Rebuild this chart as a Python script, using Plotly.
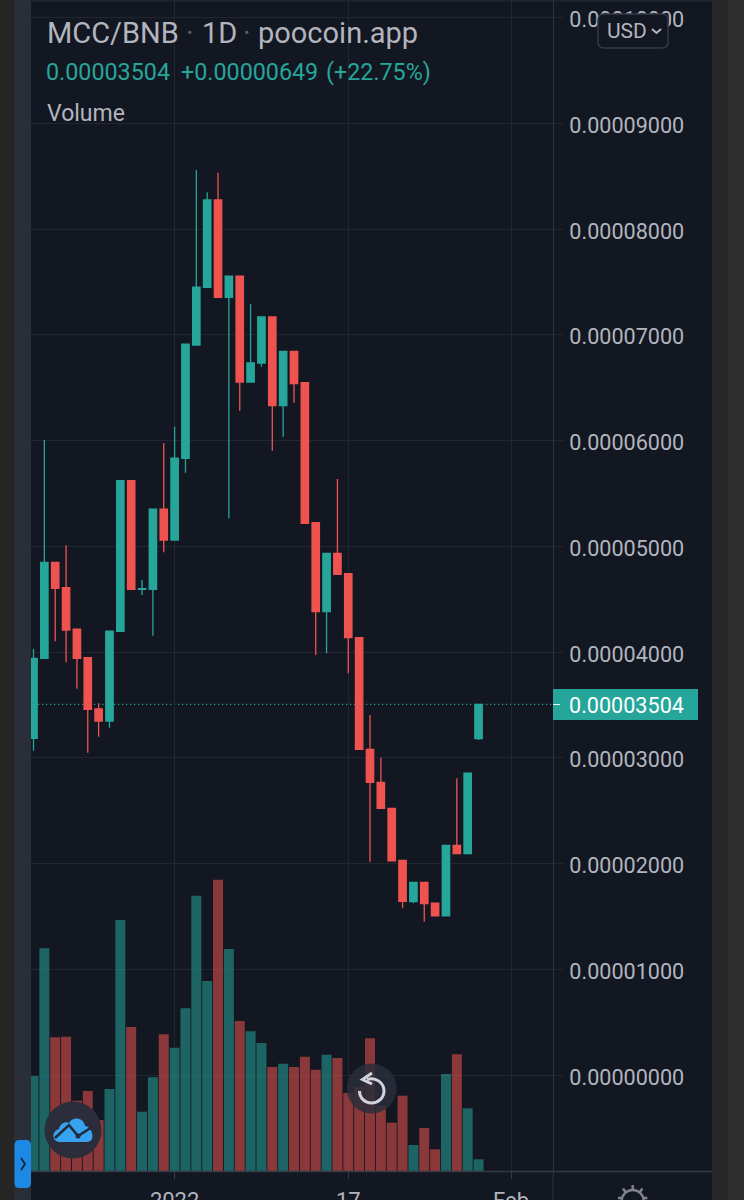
import re
import pandas as pd
import plotly.graph_objects as go

# Daily MCC/BNB candles, prices in units of 1e-5 BNB
open_e5 = [3.184, 3.940, 4.848, 4.608, 4.215, 3.946, 3.461, 3.347, 4.196, 5.620, 4.593, 4.593, 5.352, 5.059,
           5.832, 6.903, 7.449, 8.274, 7.354, 7.553, 6.553, 6.733, 7.168, 6.329, 6.843, 6.546, 5.223, 4.381,
           4.933, 4.740, 4.135, 3.080, 2.768, 2.522, 2.030, 1.639, 1.822, 1.626, 1.506, 2.172, 2.093, 3.180]
high_e5 = [4.028, 6.005, 4.848, 5.009, 4.215, 3.946, 3.515, 4.198, 5.620, 5.620, 4.681, 5.352, 5.973, 6.130,
           6.910, 8.558, 8.347, 8.532, 7.553, 7.553, 7.291, 7.168, 7.168, 6.843, 6.843, 6.546, 5.223, 4.933,
           5.636, 4.740, 4.135, 3.404, 3.000, 2.522, 2.030, 1.822, 1.822, 1.626, 2.172, 2.806, 2.855, 3.504]
low_e5 = [3.067, 3.935, 4.101, 3.902, 3.653, 3.048, 3.199, 3.284, 4.196, 4.593, 4.539, 4.154, 4.943, 5.059,
          5.695, 6.903, 7.449, 7.354, 5.264, 6.282, 6.553, 6.698, 5.903, 6.036, 6.357, 5.217, 3.972, 3.988,
          4.735, 3.799, 3.080, 2.017, 2.522, 2.024, 1.576, 1.624, 1.450, 1.506, 1.506, 2.093, 2.093, 3.168]
close_e5 = [3.940, 4.848, 4.602, 4.208, 3.940, 3.458, 3.347, 4.198, 5.620, 4.593, 4.600, 5.352, 5.059, 5.832,
            6.910, 7.449, 8.274, 7.354, 7.553, 6.553, 6.733, 7.168, 6.329, 6.843, 6.537, 5.217, 4.381, 4.933,
            4.735, 4.135, 3.080, 2.768, 2.522, 2.024, 1.643, 1.822, 1.620, 1.506, 2.172, 2.093, 2.855, 3.504]
volume = [950, 2227, 1337, 1343, 703, 800, 510, 820, 2510, 1440, 593, 937, 1367, 1233,
          1627, 2753, 1900, 2913, 2220, 1500, 1397, 1280, 1040, 1073, 1040, 1143, 1013, 1163,
          1130, 780, 843, 1327, 650, 483, 753, 260, 430, 217, 970, 1167, 627, 117]
first_day = "2021-12-19"
axis_ticks = ["2022-01-01", "2022-01-17", "2022-02-01"]
axis_tick_labels = ["2022", "17", "Feb"]
price_ticks_e5 = [0, 1, 2, 3, 4, 5, 6, 7, 8, 9, 10]
symbol_parts = ["MCC/BNB", "1D", "poocoin.app"]
change_text = "+0.00000649"
change_pct_text = "(+22.75%)"

UP = "#26a69a"
DOWN = "#ef5350"
BG = "#131722"
GRID = "#222630"
TEXT = "#b2b5be"
AXIS = "#363a45"
W, H = 744, 1200

days = pd.date_range(first_day, periods=len(close_e5), freq="D")
scale = 1e-5
opens = [v * scale for v in open_e5]
highs = [v * scale for v in high_e5]
lows = [v * scale for v in low_e5]
closes = [v * scale for v in close_e5]
last_close = closes[-1]


def px(x, y):
    return x / W, 1 - y / H


def path(spec):
    # Turn a path written in page pixels into paper coordinates
    nums = iter(re.findall(r"-?\d+\.?\d*|[A-Za-z]", spec))
    out = []
    for tok in nums:
        if tok.isalpha():
            out.append(tok)
        else:
            x, y = px(float(tok), float(next(nums)))
            out.append(f"{x:.5f},{y:.5f}")
    return " ".join(out)


def label(x, y, text, size, color=TEXT, anchor="left"):
    xp, yp = px(x, y)
    return dict(x=xp, y=yp, xref="paper", yref="paper", text=text, showarrow=False, xanchor=anchor,
                yanchor="middle", align="left", borderpad=0,
                font=dict(family="Roboto", size=size, color=color))


def rect(x0, y0, x1, y1, fill, layer="above", line=None):
    a, b = px(x0, y0)
    c, d = px(x1, y1)
    return dict(type="rect", xref="paper", yref="paper", x0=a, y0=b, x1=c, y1=d, fillcolor=fill,
                layer=layer, line=line or dict(width=0))


def circle(cx, cy, r, fill, line=None):
    a, b = px(cx - r, cy - r)
    c, d = px(cx + r, cy + r)
    return dict(type="circle", xref="paper", yref="paper", x0=a, y0=b, x1=c, y1=d, fillcolor=fill,
                layer="above", line=line or dict(width=0))


def stroke(spec, color, width, fill="rgba(0,0,0,0)"):
    return dict(type="path", xref="paper", yref="paper", path=path(spec), fillcolor=fill, layer="above",
                line=dict(color=color, width=width))


fig = go.Figure()

fig.add_trace(go.Bar(
    x=days, y=volume, yaxis="y2", hoverinfo="skip", showlegend=False,
    marker=dict(color=["rgba(38,166,154,0.55)" if c >= o else "rgba(239,83,80,0.55)"
                       for o, c in zip(opens, closes)], line=dict(width=0)),
))
fig.add_trace(go.Candlestick(
    x=days, open=opens, high=highs, low=lows, close=closes, hoverinfo="skip", showlegend=False,
    increasing=dict(line=dict(color=UP, width=1.3), fillcolor=UP),
    decreasing=dict(line=dict(color=DOWN, width=1.3), fillcolor=DOWN),
    whiskerwidth=0,
))

start = pd.Timestamp(first_day)
x_left = start + pd.Timedelta(days=-0.23)
x_right = start + pd.Timedelta(days=47.86)
price_per_px = scale / 105.75
y_top = 1075 * price_per_px
y_bottom = -(1171 - 1075) * price_per_px

GEAR = "#7f828c"
shapes = [
    # last-price guide
    dict(type="line", xref="x", yref="y", x0=start + pd.Timedelta(days=0.42), x1=x_right,
         y0=last_close, y1=last_close, layer="below", line=dict(color=UP, width=1.2, dash="1.2px,2.8px")),
    # page chrome around the chart pane
    rect(0, 0, 14, H, "#252525"),
    rect(14, 0, 31, H, "#2a2e39"),
    rect(712, 0, 728, H, "#272727"),
    rect(728, 0, 744, H, "#2e2e2e"),
    rect(31, 0.5, 712, 1.5, "#2a2e39"),
    # time-axis rule runs under the price scale, price-scale rule runs down to the page edge
    rect(31, 1170.7, 712, 1172.3, AXIS),
    rect(552.6, 1171, 553.6, H, "#2f3340"),
    # last-price tag
    rect(553, 689, 698, 720, UP),
    rect(553, 704, 560, 705, "#e8f5f3"),
    # USD selector
    stroke("M 604 14 L 662 14 C 666 14 668 16 668 20 L 668 42 C 668 46 666 48 662 48 L 604 48 "
           "C 600 48 598 46 598 42 L 598 20 C 598 16 600 14 604 14 Z", AXIS, 1.5, BG),
    stroke("M 652 29 L 656.5 33 L 661 29", TEXT, 2),
    # collapse handle
    stroke("M 19 1140 L 26 1140 C 29 1140 31 1142 31 1145 L 31 1183 C 31 1186 29 1188 26 1188 L 19 1188 "
           "C 16 1188 14.5 1186 14.5 1183 L 14.5 1145 C 14.5 1142 16 1140 19 1140 Z", "#2196f3", 0, "#1e88e5"),
    stroke("M 21 1158 L 25 1164 L 21 1170", "#10243a", 1.8),
    # logo button
    circle(73, 1130, 28.5, "#2b2d3a"),
    stroke("M 60 1142 C 52 1142 51 1131 59 1129 C 60 1123 66 1121 69 1123 C 72 1116 84 1117 85 1126 "
           "C 93 1127 96 1142 87 1142 Z", "#36a2f0", 0, "#36a2f0"),
    stroke("M 55 1138 L 69 1125 L 78 1136 L 92 1127", "#23283a", 2.5),
    circle(78, 1136, 2.5, "#23283a"),
    # reset-view button
    circle(371.7, 1088.5, 25, "rgba(42,46,57,0.85)"),
    stroke("M 367 1079.5 C 376 1076.5 384 1083 384 1091 C 384 1098 378 1103 371.5 1103 "
           "C 365 1103 359.5 1098 359.5 1091", "#d1d4dc", 3),
    stroke("M 372 1073 L 362.5 1079.5 L 372 1084", "#d1d4dc", 3),
    # settings gear, cut off by the page edge
    circle(632.7, 1201, 11, "rgba(0,0,0,0)", dict(color=GEAR, width=2.5)),
    stroke("M 632.7 1185 L 632.7 1189", GEAR, 2.5),
    stroke("M 623 1188.5 L 625.5 1192", GEAR, 2.5),
    stroke("M 642.4 1188.5 L 639.9 1192", GEAR, 2.5),
    stroke("M 618 1198 L 621.5 1198", GEAR, 2.5),
    stroke("M 647.4 1198 L 643.9 1198", GEAR, 2.5),
]

annotations = [
    label(45.5, 33, symbol_parts[0], 29),
    label(190, 33, "·", 29, "#5d606b", "center"),
    label(200.5, 33, symbol_parts[1], 29),
    label(247, 33, "·", 29, "#5d606b", "center"),
    label(256.5, 33, symbol_parts[2], 29),
    label(45, 72, f"{last_close:.8f}", 23.3, UP),
    label(180, 72, change_text, 23.3, UP),
    label(325, 72, change_pct_text, 23.3, UP),
    label(46, 114, "Volume", 23),
    label(568, 705, f"{last_close:.8f}", 21.6, "#ffffff"),
    label(606, 31, "USD", 21, TEXT),
]

fig.update_layout(
    width=W, height=H, margin=dict(l=0, r=0, t=0, b=0), paper_bgcolor=BG, plot_bgcolor=BG,
    showlegend=False, hovermode=False, boxgap=0.32, boxgroupgap=0, bargap=0.08,
    shapes=shapes, annotations=annotations,
    xaxis=dict(
        domain=[31 / W, 553 / W], range=[x_left, x_right], type="date", rangeslider=dict(visible=False),
        tickmode="array", tickvals=axis_ticks, ticktext=axis_tick_labels, showgrid=True, gridcolor=GRID,
        gridwidth=1, ticks="outside", ticklen=7, tickcolor=AXIS, ticklabelstandoff=3,
        tickfont=dict(family="Roboto", size=22, color=TEXT), zeroline=False, automargin=False,
    ),
    yaxis=dict(
        domain=[29 / H, 1], range=[y_bottom, y_top], side="right", anchor="x",
        tickmode="array", tickvals=[v * scale for v in price_ticks_e5], tickformat=".8f",
        showgrid=True, gridcolor=GRID, gridwidth=1, ticks="outside", ticklen=9, tickcolor=GRID,
        ticklabelstandoff=2, ticklabelshift=2,
        showline=True, linecolor="#2f3340", linewidth=1, zeroline=False, mirror=False, automargin=False,
        tickfont=dict(family="Roboto", size=21.6, color=TEXT),
    ),
    yaxis2=dict(domain=[29 / H, 1], range=[0, 11710], overlaying="y", anchor="x", visible=False, fixedrange=True),
)

fig.write_html("out.html")
